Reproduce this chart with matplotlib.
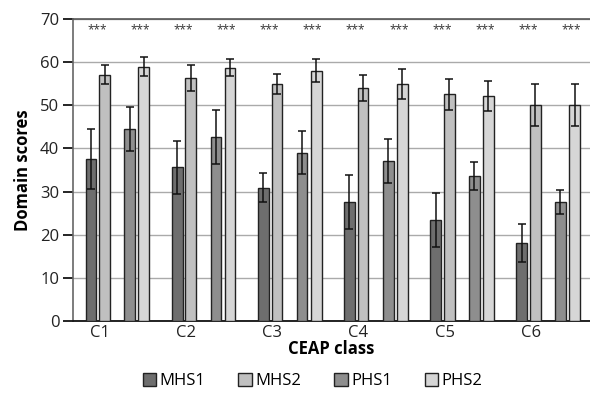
import numpy as np
import matplotlib.pyplot as plt

plt.rcParams['font.family'] = ['Open Sans', 'DejaVu Sans']

clases = ['C1', 'C2', 'C3', 'C4', 'C5', 'C6']
series = ['MHS1', 'MHS2', 'PHS1', 'PHS2']

mhs1 = [37.5, 35.6, 30.9, 27.6, 23.4, 18.1]
mhs2 = [57.1, 56.3, 54.9, 53.9, 52.5, 50.1]
phs1 = [44.4, 42.7, 39.0, 37.0, 33.6, 27.6]
phs2 = [58.9, 58.7, 58.0, 54.9, 52.2, 50.1]

err_mhs1 = [6.9, 6.2, 3.4, 6.2, 6.3, 4.3]
err_mhs2 = [2.1, 3.1, 2.4, 3.0, 3.5, 4.9]
err_phs1 = [5.1, 6.3, 5.0, 5.1, 3.2, 2.8]
err_phs2 = [2.2, 2.0, 2.7, 3.4, 3.5, 4.9]

signif = '***'

valores = [mhs1, mhs2, phs1, phs2]
errores = [err_mhs1, err_mhs2, err_phs1, err_phs2]
colores = ['#6e6e6e', '#c0c0c0', '#8e8e8e', '#d6d6d6']
offsets = [-0.292, -0.134, 0.157, 0.321]
ancho = 0.125

fig = plt.figure(figsize=(5.9, 4), dpi=100)
ax = fig.add_axes([0.124, 0.197, 0.876, 0.756])

x = np.arange(1, len(clases) + 1)
for vals, errs, col, off, nombre in zip(valores, errores, colores, offsets, series):
    ax.bar(x + off, vals, ancho, color=col, edgecolor='#222222', linewidth=1,
           label=nombre, zorder=3)
    ax.errorbar(x + off, vals, yerr=errs, fmt='none', ecolor='#111111',
                elinewidth=1.1, capsize=3.2, capthick=1.1, zorder=4)

# asteriscos sobre cada par MHS / PHS
for xi in x:
    ax.text(xi - 0.22, 67.4, signif, ha='center', va='center', fontsize=8.5, color='#333333')
    ax.text(xi + 0.28, 67.4, signif, ha='center', va='center', fontsize=8.5, color='#333333')

ax.set_xlim(0.5, 6.5)
ax.set_ylim(0, 70)
ax.set_yticks(np.arange(0, 71, 10))
ax.set_xticks(x - 0.188)
ax.set_xticklabels(clases, fontsize=12, color='#222222')
ax.tick_params(axis='x', length=0, pad=3)
ax.tick_params(axis='y', length=7, width=1.2, labelsize=12, labelcolor='#222222', pad=3)
ax.yaxis.grid(True, color='#aaaaaa', linewidth=1, zorder=0)
ax.set_axisbelow(True)

ax.spines['right'].set_visible(False)
ax.spines['top'].set_color('#555555')
ax.spines['top'].set_linewidth(1.2)
ax.spines['left'].set_color('#666666')
ax.spines['left'].set_linewidth(1.2)
ax.spines['bottom'].set_color('#111111')
ax.spines['bottom'].set_linewidth(1.3)

ax.set_xlabel('CEAP class', fontsize=12, fontweight='bold', labelpad=-1)
ax.set_ylabel('Domain scores', fontsize=12, fontweight='bold', labelpad=6)

fig.legend(loc='lower center', bbox_to_anchor=(0.53, -0.01), ncol=4, frameon=False,
           fontsize=12, handlelength=0.8, handleheight=0.8, handletextpad=0.2,
           columnspacing=2.0)

plt.savefig('out.png', dpi=100)
